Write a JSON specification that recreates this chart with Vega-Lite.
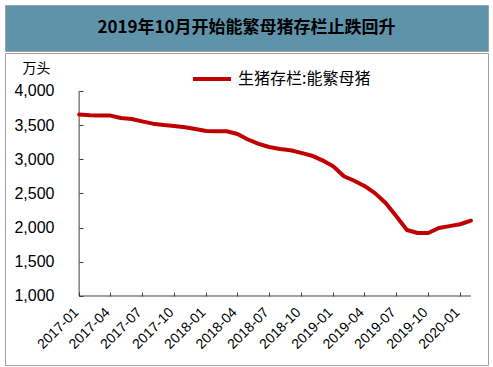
{
  "$schema": "https://vega.github.io/schema/vega-lite/v6.json",
  "background": "white",
  "padding": {"left": 4, "top": 4, "right": 6, "bottom": 5},
  "spacing": 0,
  "vconcat": [
    {
      "width": 483,
      "height": 46,
      "view": {"fill": "#5F93AA", "stroke": "#A0A0A0", "strokeWidth": 1},
      "data": {"values": [{"t": "2019年10月开始能繁母猪存栏止跌回升"}]},
      "mark": {"type": "text", "font": "Noto Sans CJK SC", "fontSize": 17, "fontWeight": "bold", "color": "#000000"},
      "encoding": {"text": {"field": "t", "type": "nominal"}}
    },
    {
      "width": 483,
      "height": 312,
      "view": {"fill": "white", "stroke": "#A0A0A0", "strokeWidth": 1},
      "data": {"values": [
        {"date": "2017-01-01", "value": 3655},
        {"date": "2017-02-01", "value": 3645},
        {"date": "2017-03-01", "value": 3640},
        {"date": "2017-04-01", "value": 3640},
        {"date": "2017-05-01", "value": 3605},
        {"date": "2017-06-01", "value": 3590},
        {"date": "2017-07-01", "value": 3556},
        {"date": "2017-08-01", "value": 3522},
        {"date": "2017-09-01", "value": 3502},
        {"date": "2017-10-01", "value": 3488},
        {"date": "2017-11-01", "value": 3470},
        {"date": "2017-12-01", "value": 3444},
        {"date": "2018-01-01", "value": 3415},
        {"date": "2018-02-01", "value": 3410},
        {"date": "2018-03-01", "value": 3410},
        {"date": "2018-04-01", "value": 3370},
        {"date": "2018-05-01", "value": 3290},
        {"date": "2018-06-01", "value": 3225},
        {"date": "2018-07-01", "value": 3180},
        {"date": "2018-08-01", "value": 3150},
        {"date": "2018-09-01", "value": 3132},
        {"date": "2018-10-01", "value": 3095},
        {"date": "2018-11-01", "value": 3053},
        {"date": "2018-12-01", "value": 2985},
        {"date": "2019-01-01", "value": 2898},
        {"date": "2019-02-01", "value": 2752},
        {"date": "2019-03-01", "value": 2690},
        {"date": "2019-04-01", "value": 2610},
        {"date": "2019-05-01", "value": 2505},
        {"date": "2019-06-01", "value": 2361},
        {"date": "2019-07-01", "value": 2170},
        {"date": "2019-08-01", "value": 1965},
        {"date": "2019-09-01", "value": 1922},
        {"date": "2019-10-01", "value": 1922},
        {"date": "2019-11-01", "value": 1995},
        {"date": "2019-12-01", "value": 2022},
        {"date": "2020-01-01", "value": 2050},
        {"date": "2020-02-01", "value": 2102}
      ]},
      "layer": [
        {
          "data": {"values": [{}]},
          "mark": {"type": "rule", "color": "#404040", "strokeWidth": 1},
          "encoding": {
            "x": {"datum": {"year": 2017, "month": 1, "date": 1, "utc": true}, "type": "temporal", "scale": {"type": "utc"}},
            "x2": {"datum": {"year": 2020, "month": 2, "date": 1, "utc": true}},
            "y": {"datum": 1000, "type": "quantitative"}
          }
        },
        {
          "data": {"values": [{}]},
          "mark": {"type": "rule", "color": "#404040", "strokeWidth": 1},
          "encoding": {
            "x": {"datum": {"year": 2017, "month": 1, "date": 1, "utc": true}, "type": "temporal", "scale": {"type": "utc"}},
            "y": {"datum": 1000, "type": "quantitative"},
            "y2": {"datum": 4000}
          }
        },
        {
          "mark": {"type": "line", "strokeWidth": 4, "strokeJoin": "round", "strokeCap": "round"},
          "encoding": {
            "x": {
              "field": "date",
              "type": "temporal",
              "scale": {
                "type": "utc",
                "nice": false,
                "domain": [
                  {"year": 2016, "month": 6, "date": 2, "utc": true},
                  {"year": 2020, "month": 3, "date": 21, "utc": true}
                ]
              },
              "axis": {
                "title": null,
                "grid": false,
                "domain": false,
                "offset": -69,
                "ticks": true,
                "tickSize": -4,
                "tickColor": "#404040",
                "format": "%Y-%m",
                "labelAngle": -45,
                "labelAlign": "right",
                "labelBaseline": "middle",
                "labelPadding": 18,
                "labelOffset": -3,
                "labelOverlap": false,
                "labelFlush": false,
                "labelBound": false,
                "labelFont": "Liberation Sans",
                "labelFontSize": 14,
                "labelColor": "#000000",
                "values": [
                  {"year": 2017, "month": 1, "date": 1, "utc": true},
                  {"year": 2017, "month": 4, "date": 1, "utc": true},
                  {"year": 2017, "month": 7, "date": 1, "utc": true},
                  {"year": 2017, "month": 10, "date": 1, "utc": true},
                  {"year": 2018, "month": 1, "date": 1, "utc": true},
                  {"year": 2018, "month": 4, "date": 1, "utc": true},
                  {"year": 2018, "month": 7, "date": 1, "utc": true},
                  {"year": 2018, "month": 10, "date": 1, "utc": true},
                  {"year": 2019, "month": 1, "date": 1, "utc": true},
                  {"year": 2019, "month": 4, "date": 1, "utc": true},
                  {"year": 2019, "month": 7, "date": 1, "utc": true},
                  {"year": 2019, "month": 10, "date": 1, "utc": true},
                  {"year": 2020, "month": 1, "date": 1, "utc": true}
                ]
              }
            },
            "y": {
              "field": "value",
              "type": "quantitative",
              "scale": {"domain": [-10, 4556], "nice": false, "zero": false},
              "axis": {
                "values": [1000, 1500, 2000, 2500, 3000, 3500, 4000],
                "format": ",.0f",
                "grid": false,
                "domain": false,
                "offset": -74,
                "ticks": true,
                "tickSize": -4,
                "tickColor": "#404040",
                "labelPadding": 29,
                "labelFont": "Liberation Sans",
                "labelFontSize": 16,
                "labelColor": "#000000",
                "labelFlush": false,
                "labelOverlap": false,
                "title": "万头",
                "titleAngle": 0,
                "titleX": -43,
                "titleY": 15,
                "titleAlign": "center",
                "titleBaseline": "middle",
                "titleFont": "Noto Sans CJK SC",
                "titleFontSize": 14,
                "titleFontWeight": "normal",
                "titleColor": "#000000"
              }
            },
            "color": {
              "datum": "生猪存栏:能繁母猪",
              "type": "nominal",
              "scale": {"range": ["#C00000"]},
              "legend": {
                "title": null,
                "orient": "none",
                "legendX": 186,
                "legendY": 53,
                "direction": "horizontal",
                "padding": 0,
                "symbolType": "stroke",
                "symbolSize": 1444,
                "symbolStrokeWidth": 4,
                "labelFont": "Noto Sans CJK SC",
                "labelFontSize": 16,
                "labelColor": "#000000",
                "labelOffset": 5
              }
            }
          }
        }
      ]
    }
  ]
}
